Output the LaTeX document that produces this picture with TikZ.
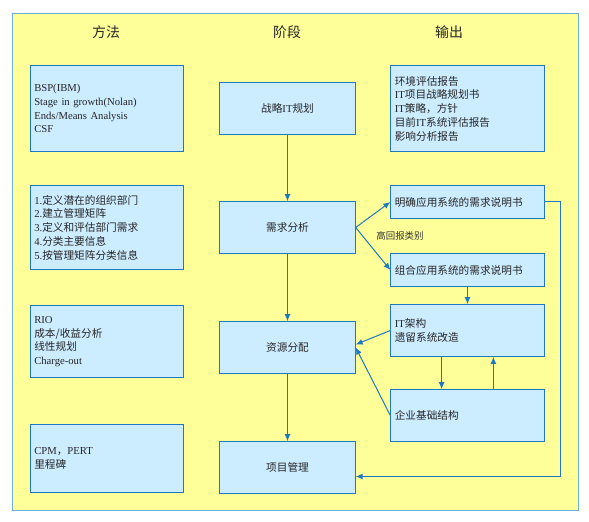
\documentclass[tikz,border=0pt]{standalone}
\usepackage{fontspec}
\setmainfont{Liberation Serif}
\newfontfamily\cjk{Noto Sans CJK SC}
\usetikzlibrary{arrows.meta}
\definecolor{paper}{HTML}{FFFF99}
\definecolor{boxfill}{HTML}{CCECFF}
\definecolor{boxline}{HTML}{1F78C1}
\definecolor{frameline}{HTML}{6AAEDB}
\newcommand\zh[1]{{\cjk #1}}

\begin{document}
\begin{tikzpicture}[
  x=1bp, y=-1bp,
  every node/.style={font=\fontsize{10.7}{13.8}\selectfont, text=black!85},
  head/.style={font=\fontsize{14}{16}\selectfont},
  card/.style={
    rectangle,
    draw=boxline,
    line width=0.9pt,
    fill=boxfill,
    inner xsep=4pt,
    text width=146pt,
    align=left
  },
  stage/.style={card, text width=128pt, align=center, minimum height=52pt},
  link/.style={draw=boxline, line width=1bp, -{Latex[length=7pt,width=6pt]}}
]

\useasboundingbox (0,0) rectangle (589,522);
\draw[fill=paper, draw=frameline, line width=1pt] (12,14) rectangle (578,510);

\node[head] (hmethod) at (106,32) {\zh{方法}};
\node[head] (hstage) at (287,32) {\zh{阶段}};
\node[head] (hout) at (449,32) {\zh{输出}};

\node[card, minimum height=86pt] (bsp) at (107,108.5) {BSP(IBM)\\Stage in growth(Nolan)\\Ends/Means Analysis\\CSF};
\node[card, minimum height=85pt] (steps) at (107,227.5) {1.\zh{定义潜在的组织部门}\\2.\zh{建立管理矩阵}\\3.\zh{定义和评估部门需求}\\4.\zh{分类主要信息}\\5.\zh{按管理矩阵分类信息}};
\node[card, minimum height=73pt] (rio) at (107,341.5) {RIO\\\zh{成本/收益分析}\\\zh{线性规划}\\Charge-out};
\node[card, minimum height=69pt] (cpm) at (107,458.5) {CPM\zh{，}PERT\\\zh{里程碑}};

\node[stage] (plan) at (287.5,108.5) {\zh{战略}IT\zh{规划}};
\node[stage] (need) at (287.5,227.5) {\zh{需求分析}};
\node[stage] (alloc) at (287.5,347.5) {\zh{资源分配}};
\node[stage] (manage) at (287.5,467.5) {\zh{项目管理}};

\node[card, minimum height=86pt] (report) at (467.5,108.5) {\zh{环境评估报告}\\IT\zh{项目战略规划书}\\IT\zh{策略，方针}\\\zh{目前}IT\zh{系统评估报告}\\\zh{影响分析报告}};
\node[card, minimum height=34pt] (clear) at (467.5,202) {\zh{明确应用系统的需求说明书}};
\node[card, minimum height=34pt] (combine) at (467.5,270) {\zh{组合应用系统的需求说明书}};
\node[card, minimum height=52pt] (arch) at (467.5,330.5) {IT\zh{架构}\\\zh{遗留系统改造}};
\node[card, minimum height=52pt] (infra) at (467.5,415.5) {\zh{企业基础结构}};

\node[font=\fontsize{9.5}{11}\selectfont, text=black!80] (high) at (400,236) {\zh{高回报类别}};

\draw[link] (plan) -- (need);
\draw[link] (need) -- (alloc);
\draw[link] (alloc) -- (manage);
\draw[link] (need.east) -- (clear.west);
\draw[link] (need.east) -- (combine.west);
\draw[link] (combine) -- (arch);
\draw[link] (arch.west) -- ([yshift=3pt]alloc.east);
\draw[link] (infra.west) -- (alloc.east);
\draw[link] ([xshift=-26pt]arch.south) -- ([xshift=-26pt]infra.north);
\draw[link] ([xshift=26pt]infra.north) -- ([xshift=26pt]arch.south);
\draw[link] (clear.east) -- ++(16,0) |- ([yshift=-9pt]manage.east);

\end{tikzpicture}
\end{document}
